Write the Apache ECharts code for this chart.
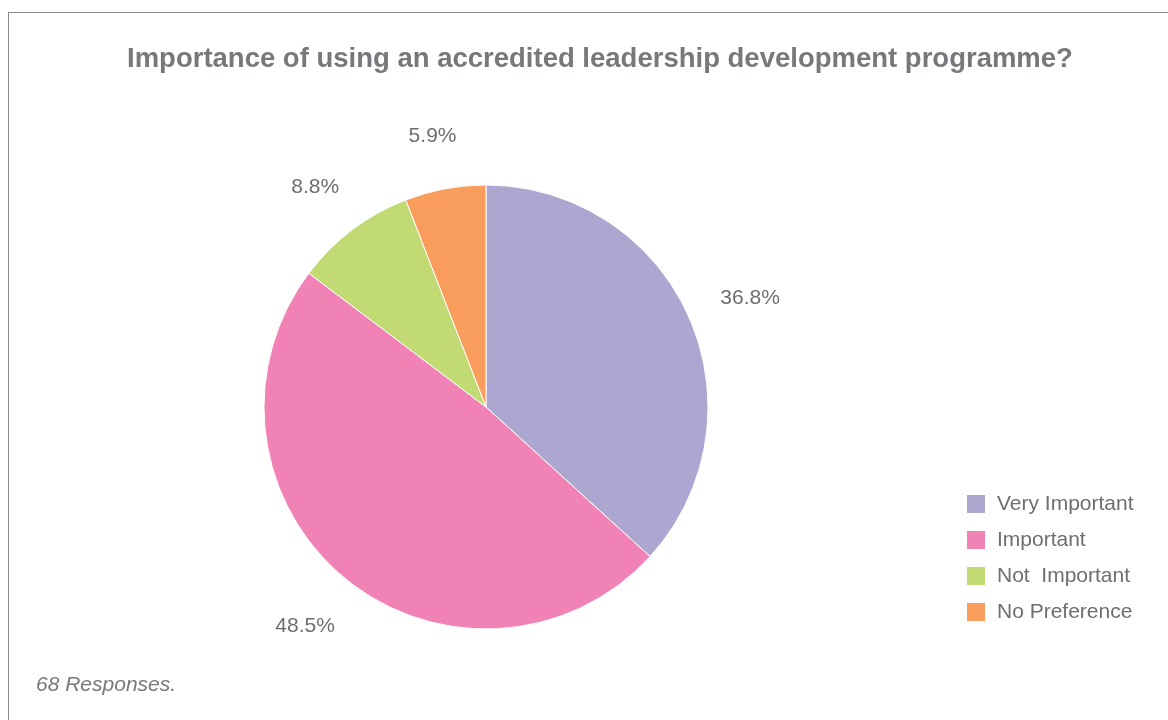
<!DOCTYPE html>
<html>
<head>
<meta charset="utf-8">
<script src="https://cdn.jsdelivr.net/npm/echarts@6/dist/echarts.min.js"></script>
<style>
  html, body { margin: 0; padding: 0; background: #fff; }
  #frame { position: absolute; left: 8px; top: 12px; width: 1300px; height: 800px;
           border-left: 1.5px solid #8a8a8c; border-top: 1.5px solid #8a8a8c; }
  #chart { position: absolute; left: 0; top: 0; width: 1168px; height: 720px; }
</style>
</head>
<body>
<div id="frame"></div>
<div id="chart"></div>
<script>
// 类别与数值 (68 responses)
var categories = ['Very Important', 'Important', 'Not  Important', 'No Preference'];
var counts = [25, 33, 6, 4];
var percentLabels = ['36.8%', '48.5%', '8.8%', '5.9%'];
var sliceColors = ['#ADA6D1', '#F182B5', '#C1DA73', '#F89D5B'];

var chartDom = document.getElementById('chart');
var myChart = echarts.init(chartDom);

var pieData = categories.map(function (name, i) {
  return { name: name, value: counts[i], itemStyle: { color: sliceColors[i] } };
});

var option = {
  animation: false,
  title: {
    text: 'Importance of using an accredited leadership development programme?',
    left: 122,
    top: 40,
    textStyle: {
      fontFamily: 'Liberation Sans, Arial, sans-serif',
      fontSize: 27.5,
      fontWeight: 'bold',
      color: '#77787b'
    }
  },
  legend: {
    orient: 'vertical',
    left: 960,
    top: 488,
    itemWidth: 20,
    itemHeight: 20,
    itemGap: 14,
    icon: 'rect',
    data: categories,
    textStyle: {
      fontFamily: 'Liberation Sans, Arial, sans-serif',
      fontSize: 21,
      lineHeight: 20,
      color: '#6d6e71',
      padding: [0, 0, 0, 6]
    }
  },
  graphic: [{
    type: 'text',
    left: 36,
    top: 675,
    style: {
      text: '68 Responses.',
      font: 'italic 21px "Liberation Sans", Arial, sans-serif',
      fill: '#77787b'
    }
  }],
  series: [{
    name: 'Importance',
    type: 'pie',
    center: [486, 407],
    radius: 222,
    startAngle: 90,
    clockwise: true,
    itemStyle: { borderColor: '#fff', borderWidth: 1 },
    label: {
      show: true,
      position: 'outside',
      formatter: function (p) { return percentLabels[p.dataIndex]; },
      fontFamily: 'Liberation Sans, Arial, sans-serif',
      fontSize: 21,
      color: '#6d6e71'
    },
    labelLine: { show: false, length: 58, length2: 0 },
    labelLayout: { align: 'center', verticalAlign: 'middle', dx: 3, dy: 4 },
    data: pieData
  }]
};

option && myChart.setOption(option);
</script>
</body>
</html>
